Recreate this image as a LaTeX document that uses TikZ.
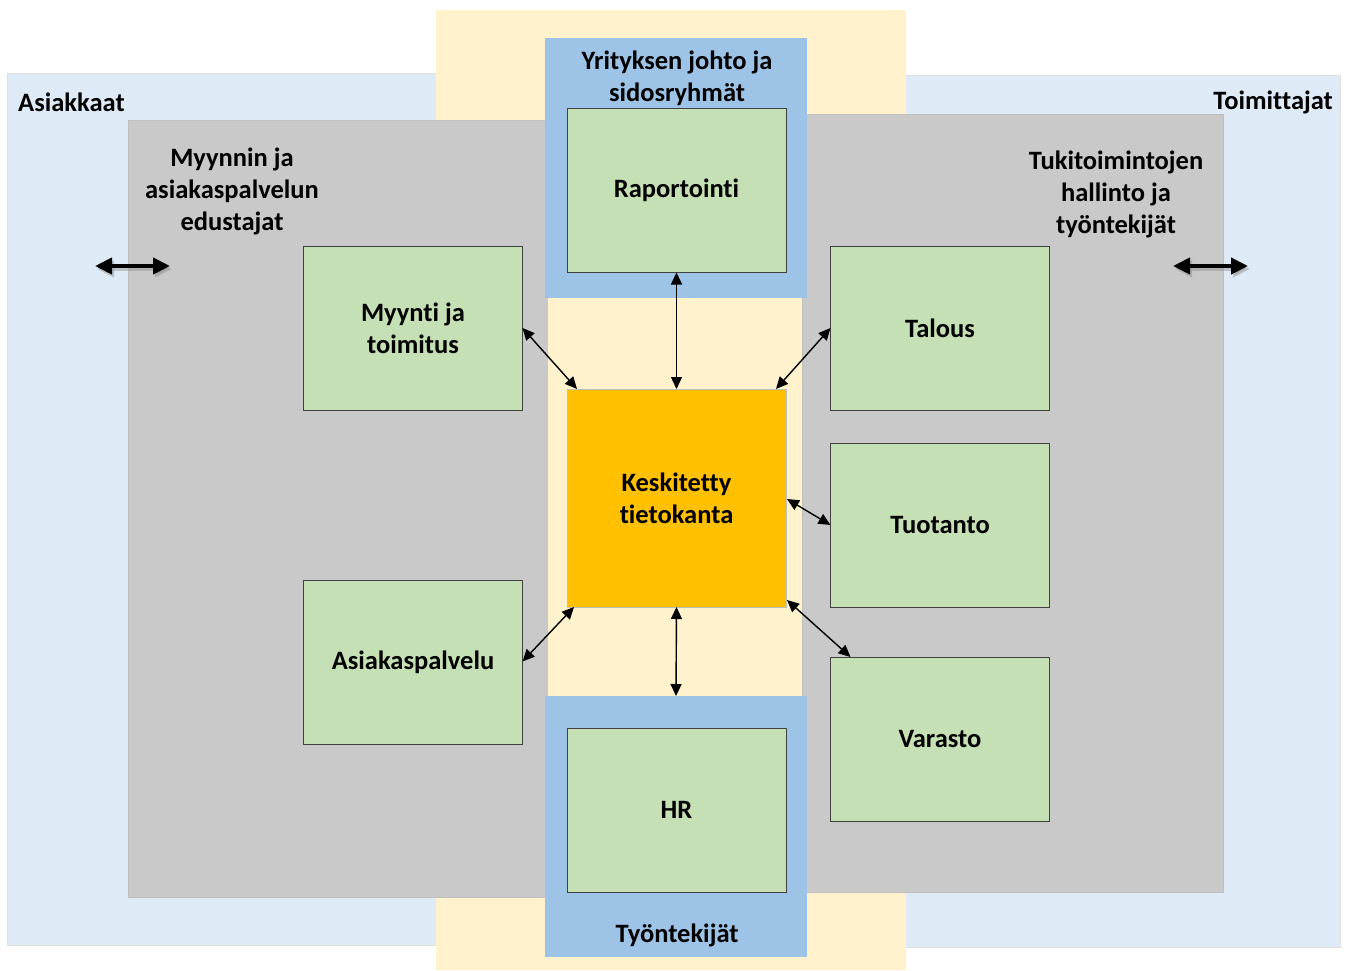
\documentclass[tikz,border=0pt]{standalone}
\usepackage{fontspec}
\setmainfont{Carlito}[Ligatures=NoCommon]
\usetikzlibrary{arrows.meta,calc}

\definecolor{paleblue}{HTML}{DEEBF7}
\definecolor{paleyellow}{HTML}{FFF2CC}
\definecolor{greyzone}{HTML}{C9C9C9}
\definecolor{midblue}{HTML}{9DC3E6}
\definecolor{boxgreen}{HTML}{C5E0B4}
\definecolor{central}{HTML}{FFC000}

\tikzset{
  lbl/.style={font=\bfseries\fontsize{26.5}{32}\selectfont, align=center, text=black, inner sep=0pt},
  band/.style={inner sep=0pt, outer sep=0pt},
  unit/.style={draw=black!75, line width=0.9pt, fill=boxgreen, minimum width=219pt, minimum height=164pt,
               inner sep=0pt, outer sep=0pt, lbl},
  conn/.style={line width=1.4pt, {Triangle[length=12pt,width=11pt]}-{Triangle[length=12pt,width=11pt]}},
  bigarrow/.style={line width=4pt, {Triangle[length=17pt,width=16pt]}-{Triangle[length=17pt,width=16pt]}},
  bigshadow/.style={bigarrow, draw=black!45, opacity=0.45}
}

\begin{document}
\begin{tikzpicture}[x=1pt,y=-1pt]
  \useasboundingbox (0,0) rectangle (1346,971);

  % outer zones: customers and suppliers
  \fill[paleblue, draw=black!12, line width=0.6pt] (7,73) rectangle (700,945);
  \fill[paleblue, draw=black!12, line width=0.6pt] (650,75) rectangle (1340,947);
  % company column
  \fill[paleyellow] (436,10) rectangle (906,970);
  % front office and back office zones
  \fill[greyzone, draw=black!25, line width=0.5pt] (128,120) rectangle (548,897);
  \fill[greyzone, draw=black!25, line width=0.5pt] (802,114) rectangle (1223,892);
  \fill[paleyellow] (548,298) rectangle (802,696);

  % management and employees bands
  \node[band, fill=midblue, minimum width=262pt, minimum height=260pt] (mgmt) at (676,168) {};
  \node[band, fill=midblue, minimum width=262pt, minimum height=261pt] (staff) at (676,826.5) {};

  % zone titles
  \node[lbl, anchor=west] (cust) at (18,102) {Asiakkaat};
  \node[lbl, anchor=east] (supp) at (1333,102) {Toimittajat};
  \node[lbl] (front) at (232,191) {Myynnin ja\\asiakaspalvelun\\edustajat};
  \node[lbl] (back) at (1116,194) {Tukitoimintojen\\hallinto ja\\työntekijät};
  \node[lbl] (mgmtlbl) at (677,78) {Yrityksen johto ja\\sidosryhmät};
  \node[lbl] (stafflbl) at (677,935) {Työntekijät};

  % functional units
  \node[unit] (rap) at (676.5,190.5) {Raportointi};
  \node[unit] (hr) at (676.5,810) {HR};
  \node[unit] (myynti) at (413,328) {Myynti ja\\toimitus};
  \node[unit] (asiak) at (413,662.5) {Asiakaspalvelu};
  \node[unit] (talous) at (940,328) {Talous};
  \node[unit] (tuot) at (940,525) {Tuotanto};
  \node[unit] (varasto) at (940,739) {Varasto};

  % central database
  \node[unit, fill=central, draw=black!25, minimum height=218pt] (db) at (676.5,498) {Keskitetty\\tietokanta};

  % data flows to and from the database
  \draw[conn] (rap.south) -- (db.north);
  \draw[conn] (db.south) -- (staff.north);
  \draw[conn] (myynti.east) -- ($(db.north west)+(10,0)$);
  \draw[conn] (talous.west) -- ($(db.north east)+(-10,0)$);
  \draw[conn] ($(asiak.east)+(0,-1)$) -- ($(db.south west)+(7,0)$);
  \draw[conn] (tuot.west) -- ($(db.east)+(1,1)$);
  \draw[conn] ($(db.south east)+(1,-7)$) -- ($(varasto.north west)+(20,0)$);

  % exchange with customers and suppliers
  \coordinate (la) at (95,266);
  \coordinate (lb) at (170,266);
  \coordinate (ra) at (1173,266);
  \coordinate (rb) at (1248,266);
  \draw[bigshadow] ($(la)+(2,3)$) -- ($(lb)+(2,3)$);
  \draw[bigshadow] ($(ra)+(2,3)$) -- ($(rb)+(2,3)$);
  \draw[bigarrow] (la) -- (lb);
  \draw[bigarrow] (ra) -- (rb);
\end{tikzpicture}
\end{document}
